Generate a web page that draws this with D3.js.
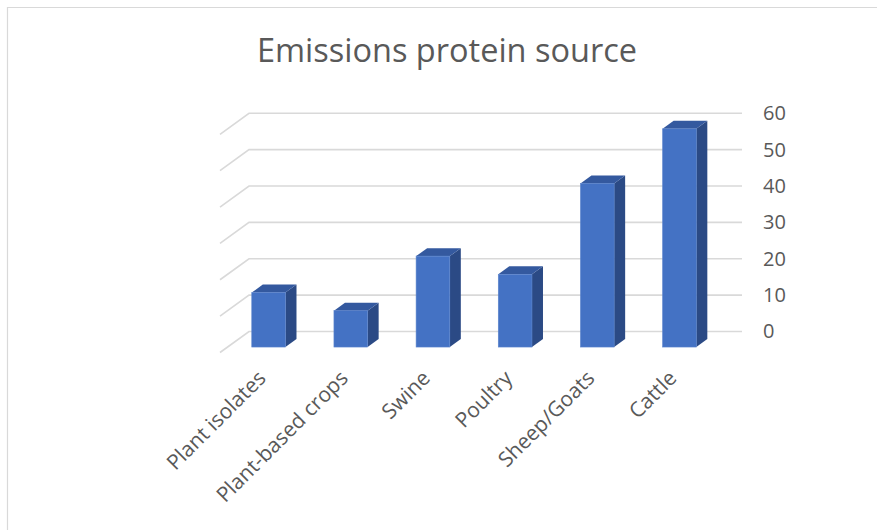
<!DOCTYPE html>
<html>
<head>
<meta charset="utf-8">
<script src="https://cdn.jsdelivr.net/npm/d3@7"></script>
<style>
  html, body { margin: 0; padding: 0; background: #fff; }
  svg { display: block; }
</style>
</head>
<body>
<svg id="chart" width="877" height="530"></svg>
<script>
// Emission values by protein source
const categories = ["Plant isolates", "Plant-based crops", "Swine", "Poultry", "Sheep/Goats", "Cattle"];
const values = [15, 10, 25, 20, 45, 60];
const yTicks = [0, 10, 20, 30, 40, 50, 60];
const title = "Emissions protein source";

const svg = d3.select("#chart");
const textColor = "#595959";
const gridColor = "#d9d9d9";

// chart frame (only top and left edges fall inside the view)
svg.append("path")
  .attr("d", "M7.5,540 L7.5,7.5 L890,7.5")
  .attr("fill", "none")
  .attr("stroke", "#d9d9d9")
  .attr("stroke-width", 1.2);

// title
svg.append("text")
  .attr("x", 447)
  .attr("y", 62)
  .attr("text-anchor", "middle")
  .attr("font-family", "'Open Sans', sans-serif")
  .attr("font-size", 32.5)
  .attr("fill", textColor)
  .text(title);

// back wall geometry with an oblique depth axis
const wallLeft = 249, wallRight = 742;
const depthVec = [-29, 21];          // back of floor -> front of floor
const barFront = 0.74, barBack = 0.36; // fractions along the depth axis

const x = d3.scaleBand().domain(categories).range([wallLeft, wallRight]).padding(0);
const y = d3.scaleLinear().domain([0, 60]).range([331.5, 113.3]);

// gridlines: back wall lines plus left side-wall diagonals
const grid = svg.append("g").attr("stroke", gridColor).attr("stroke-width", 1.6).attr("fill", "none");
yTicks.forEach(t => {
  const yy = y(t);
  grid.append("path")
    .attr("d", `M${wallLeft + depthVec[0]},${yy + depthVec[1]} L${wallLeft},${yy} L${wallRight},${yy}`);
});

// value axis on the right
const axis = d3.axisRight(y).tickValues(yTicks).tickSize(0).tickPadding(21);
const axisG = svg.append("g")
  .attr("transform", `translate(${wallRight},0)`)
  .call(axis);
axisG.select(".domain").remove();
axisG.selectAll("text")
  .attr("font-family", "'Open Sans', sans-serif")
  .attr("font-size", 20)
  .attr("fill", textColor);

// 3D columns
const barW = x.bandwidth() * 0.41;
const fx = d => x(d) + x.bandwidth() / 2 - barW / 2;
const colors = { front: "#4472c4", side: "#2b4a85", top: "#34599f" };

const bars = svg.append("g");
categories.forEach((c, i) => {
  const v = values[i];
  const x0 = fx(c);
  const fdx = depthVec[0] * barFront, fdy = depthVec[1] * barFront;
  const bdx = depthVec[0] * barBack, bdy = depthVec[1] * barBack;
  const base = y(0), topY = y(v);
  // front face corners
  const fl = x0 + fdx, fr = x0 + barW + fdx;
  const fb = base + fdy, ft = topY + fdy;
  // back face corners
  const bl = x0 + bdx, br = x0 + barW + bdx;
  const bb = base + bdy, bt = topY + bdy;

  const g = bars.append("g");
  g.append("polygon")
    .attr("points", [[fr, ft], [br, bt], [br, bb], [fr, fb]].join(" "))
    .attr("fill", colors.side);
  g.append("polygon")
    .attr("points", [[fl, ft], [bl, bt], [br, bt], [fr, ft]].join(" "))
    .attr("fill", colors.top);
  g.append("rect")
    .attr("x", fl).attr("y", ft)
    .attr("width", barW).attr("height", fb - ft)
    .attr("fill", colors.front)
    .attr("stroke", "#5b84cc").attr("stroke-width", 0.6);
});

// category labels, rotated and ending under each column
svg.append("g").selectAll("text")
  .data(categories)
  .join("text")
  .attr("transform", d => {
    const cx = x(d) + x.bandwidth() / 2 + depthVec[0] + 6;
    const cy = y(0) + depthVec[1] + 27;
    return `translate(${cx},${cy}) rotate(-45)`;
  })
  .attr("text-anchor", "end")
  .attr("font-family", "'Open Sans', sans-serif")
  .attr("font-size", 21)
  .attr("fill", textColor)
  .text(d => d);
</script>
</body>
</html>
